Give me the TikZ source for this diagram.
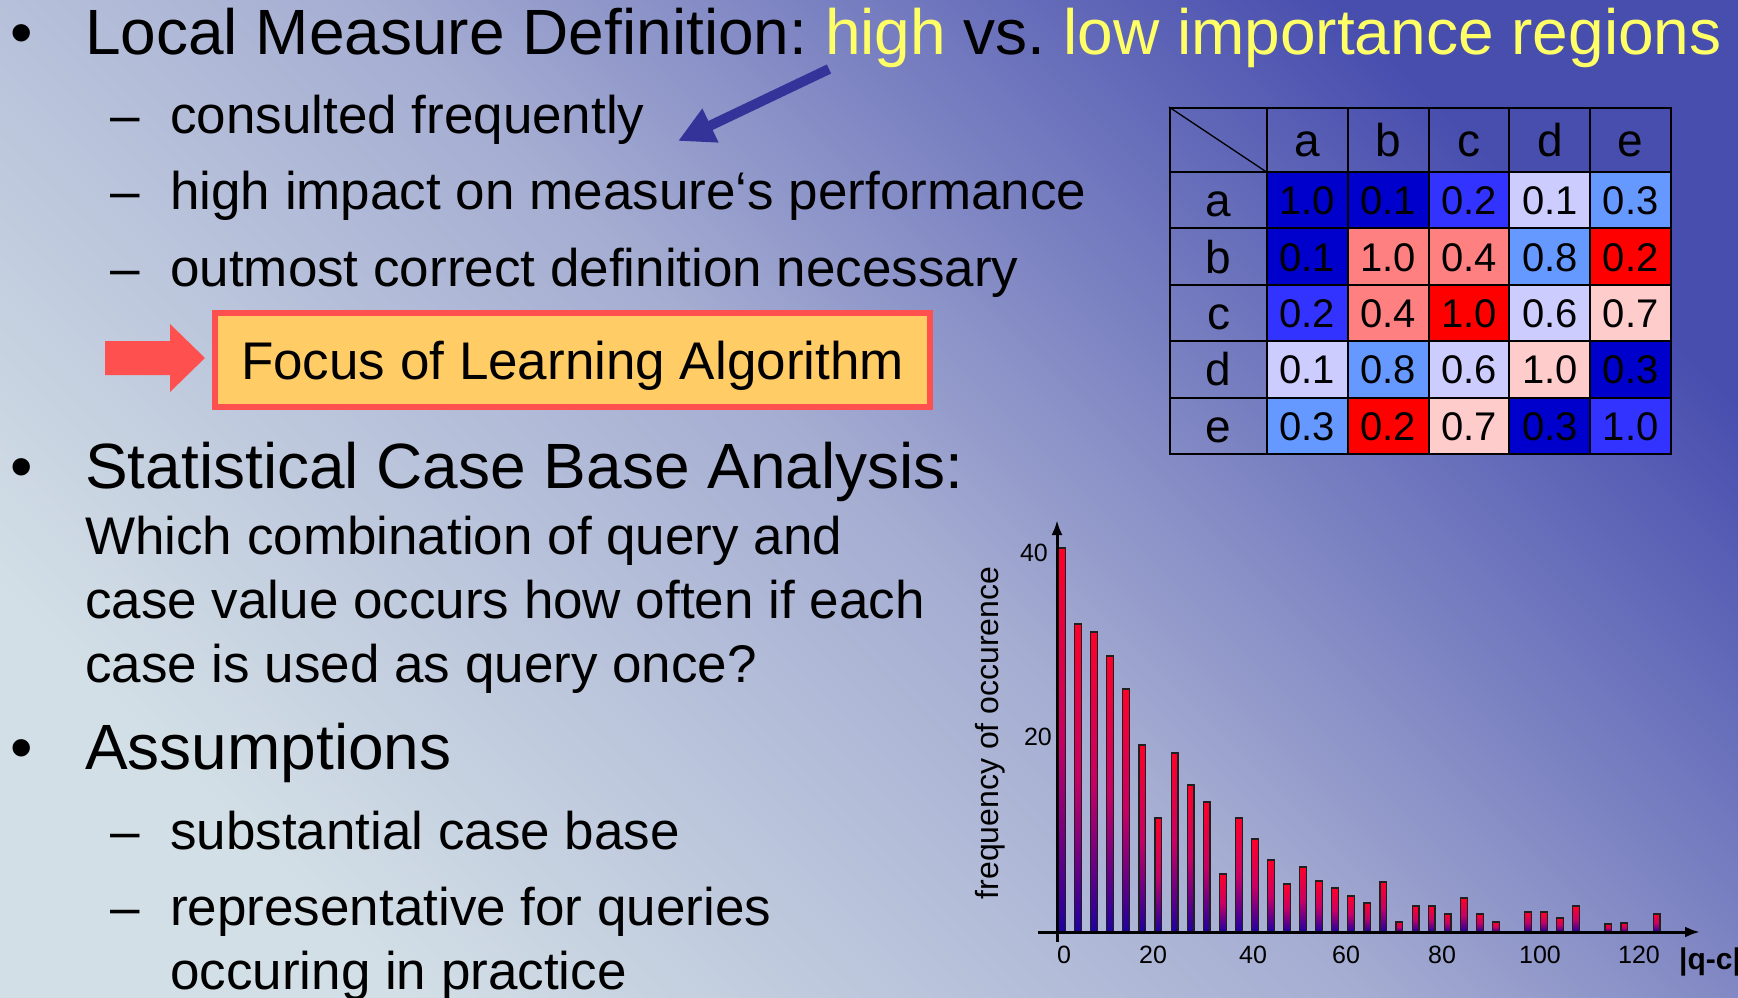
\documentclass[tikz,border=0pt]{standalone}
\usepackage{fontspec}
\setmainfont{Liberation Sans}
\usetikzlibrary{arrows.meta}
\usetikzlibrary{calc}
\frenchspacing

\definecolor{slidelight}{RGB}{211,223,230}
\definecolor{slidemid}{RGB}{165,173,210}
\definecolor{slidedark}{RGB}{72,78,174}
\definecolor{hiyellow}{RGB}{255,255,102}
\definecolor{pointerblue}{RGB}{51,51,153}
\definecolor{focusred}{RGB}{255,80,80}
\definecolor{focusfill}{RGB}{255,204,102}
\definecolor{simdark}{RGB}{0,0,204}
\definecolor{simblue}{RGB}{51,51,255}
\definecolor{simsky}{RGB}{102,153,255}
\definecolor{simlav}{RGB}{204,204,255}
\definecolor{simrose}{RGB}{255,204,204}
\definecolor{simsalmon}{RGB}{255,128,128}
\definecolor{simred}{RGB}{255,0,0}
\definecolor{bartop}{RGB}{255,0,40}
\definecolor{barmid}{RGB}{200,0,100}
\definecolor{barbottom}{RGB}{30,0,160}

\newcommand{\bigsize}{\fontsize{64}{77}\selectfont}
\newcommand{\midsize}{\fontsize{53}{64}\selectfont}
\newcommand{\cellsize}{\fontsize{40}{48}\selectfont}
\newcommand{\headsize}{\fontsize{46}{55}\selectfont}
\newcommand{\ticksize}{\fontsize{25}{30}\selectfont}
\newcommand{\axissize}{\fontsize{32}{38}\selectfont}

\begin{document}
\begin{tikzpicture}[x=1pt, y=-1pt,
        bigtext/.style={anchor=base west, inner sep=0pt, font=\bigsize},
        subtext/.style={anchor=base west, inner sep=0pt, font=\midsize},
        bulletmark/.style={anchor=base, inner sep=0pt, font=\bigsize},
        dashmark/.style={anchor=base west, inner sep=0pt, font=\midsize},
        focusbox/.style={draw=focusred, line width=6pt, fill=focusfill, font=\midsize,
            minimum width=715pt, minimum height=94pt, text height=38pt, text depth=0pt},
        pointer/.style={pointerblue, line width=10pt, -{Triangle[length=36pt, width=35pt]}},
        headcell/.style={draw=black, line width=2pt, inner sep=0pt, font=\headsize,
            text height=33pt, text depth=0pt},
        valcell/.style={draw=black, line width=2pt, inner sep=0pt, font=\cellsize,
            minimum width=80.8pt, minimum height=56.4pt, text height=29pt, text depth=0pt},
        histbar/.style={draw={rgb,255:red,32;green,32;blue,32}, line width=1.2pt,
            top color=bartop, bottom color=barbottom, middle color=barmid},
        axisline/.style={line width=3pt, -{Latex[length=15pt, width=11pt]}},
        ticklabel/.style={inner sep=0pt, font=\ticksize, text height=18pt, text depth=0pt}]

        \useasboundingbox (0,0) rectangle (1738,998);
        \shade[top color=slidedark, bottom color=slidelight, middle color=slidemid, shading angle=-45]
            (0,0) rectangle (1738,998);

        \node[bulletmark] (dot-1) at (22,55) {\textbullet};
        \node[bigtext] (title) at (85,55) {Local Measure Definition: \textcolor{hiyellow}{high} vs. \textcolor{hiyellow}{low importance regions}};
        \foreach \txt/\yy [count=\k] in {consulted frequently/133, high impact on measure‘s performance/209, outmost correct definition necessary/286} {
            \node[dashmark] (dashA-\k) at (110,\yy) {–};
            \node[subtext] (subA-\k) at (170,\yy) {\txt};
        }
        \coordinate (hlstart) at (829,69);
        \coordinate (hlend) at (678,141);
        \draw[pointer] (hlstart) -- (hlend);

        \fill[focusred] (105,341) -- (170,341) -- (170,324) -- (205,358) -- (170,392) -- (170,375) -- (105,375) -- cycle;
        \node[focusbox] (focus) at (572.5,360) {Focus of Learning Algorithm};

        \node[bulletmark] (dot-2) at (22,488) {\textbullet};
        \node[bigtext] (stats) at (85,488) {Statistical Case Base Analysis:};
        \node[subtext] (statsA) at (85,554) {Which combination of query and};
        \node[subtext] (statsB) at (85,618) {case value occurs how often if each};
        \node[subtext] (statsC) at (85,682) {case is used as query once?};

        \node[bulletmark] (dot-3) at (22,769) {\textbullet};
        \node[bigtext] (assume) at (85,769) {Assumptions};
        \node[dashmark] (dashB-1) at (110,849) {–};
        \node[subtext] (subB-1) at (170,849) {substantial case base};
        \node[dashmark] (dashB-2) at (110,925) {–};
        \node[subtext] (subB-2) at (170,925) {representative for queries};
        \node[subtext] (subB-3) at (170,989) {occuring in practice};

        \node[headcell, minimum width=97pt, minimum height=64pt] (corner) at (1218.5,140) {};
        \draw[line width=1.3pt] (corner.north west) -- (corner.south east);
        \foreach \lab [count=\c] in {a,b,c,d,e} {
            \node[headcell, minimum width=80.8pt, minimum height=64pt] (col-\c) at ({1267+80.8*(\c-0.5)},140) {\lab};
            \node[headcell, minimum width=97pt, minimum height=56.4pt] (row-\c) at (1218.5,{172+56.4*(\c-0.5)}) {\lab};
        }
        \foreach \cells [count=\r] in {
                {simdark/1.0, simdark/0.1, simblue/0.2, simlav/0.1, simsky/0.3},
                {simdark/0.1, simsalmon/1.0, simsalmon/0.4, simsky/0.8, simred/0.2},
                {simblue/0.2, simsalmon/0.4, simred/1.0, simlav/0.6, simrose/0.7},
                {simlav/0.1, simsky/0.8, simlav/0.6, simrose/1.0, simdark/0.3},
                {simsky/0.3, simred/0.2, simrose/0.7, simdark/0.3, simblue/1.0}} {
            \foreach \fc/\v [count=\c] in \cells {
                \node[valcell, fill=\fc] (cell-\r-\c) at ({1267+80.8*(\c-0.5)},{172+56.4*(\r-0.5)}) {\v};
            }
        }

        \foreach \i/\h in {0/384, 1/308, 2/300, 3/276, 4/243, 5/187, 6/114, 7/179, 8/147, 9/130,
                10/58, 11/114, 12/93, 13/72, 14/48, 15/65, 16/51, 17/44, 18/36, 19/29,
                20/50, 21/10, 22/26, 23/26, 24/18, 25/34, 26/18, 27/10, 29/20, 30/20,
                31/14, 32/26, 34/8, 35/9, 37/18}
            \shadedraw[histbar] ({1058.6+16.07*\i},932) rectangle ++(6.8,-\h);

        \coordinate (ybot) at (1057,942);
        \coordinate (ytip) at (1057,520);
        \coordinate (xleft) at (1038,932);
        \coordinate (xtip) at (1700,932);
        \draw[axisline] (ybot) -- (ytip);
        \draw[axisline] (xleft) -- (xtip);

        \foreach \v/\xx in {0/1064, 20/1153, 40/1253, 60/1346, 80/1442, 100/1540, 120/1639}
            \node[ticklabel, anchor=base] (xt-\v) at (\xx,963) {\v};
        \node[ticklabel, anchor=east] (yt-40) at (1048,552) {40};
        \node[ticklabel, anchor=east] (yt-20) at (1052,736) {20};
        \node[inner sep=0pt, font=\axissize, rotate=90] (ylab) at (990,733) {frequency of occurence};
        \node[inner sep=0pt, anchor=base west, font=\fontsize{30}{36}\selectfont\bfseries] (xlab) at (1679,969) {|q-c|};
\end{tikzpicture}
\end{document}
